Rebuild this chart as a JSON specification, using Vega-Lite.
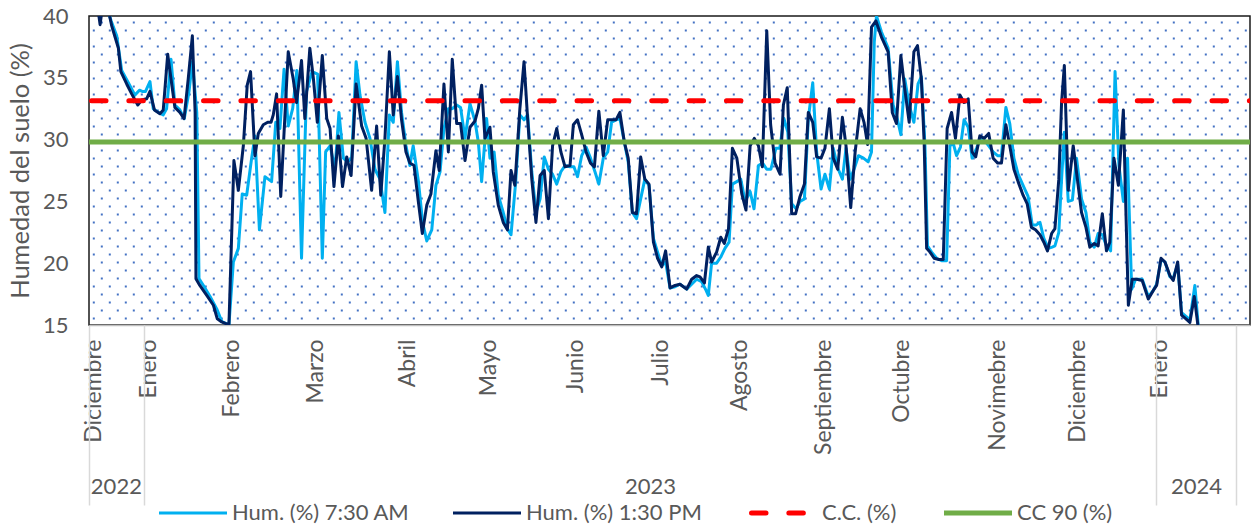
{
  "$schema": "https://vega.github.io/schema/vega-lite/v6.json",
  "width": 1161,
  "height": 309,
  "autosize": {"type": "none"},
  "padding": {"left": 89, "top": 16, "right": 2, "bottom": 200},
  "background": "white",
  "config": {
    "view": {"stroke": "#1a1a1a", "strokeWidth": 1.5},
    "font": "Lato"
  },
  "datasets": {
    "am": [
      {"d":6,"h":41},{"d":8,"h":39.6},{"d":10,"h":38.4},{"d":11.8,"h":35.6},{"d":14.2,"h":34.6},{"d":16.6,"h":33.6},{"d":18.2,"h":34},{"d":19.2,"h":33.9},{"d":20.4,"h":33.9},{"d":22,"h":34.7},{"d":23.2,"h":32.5},{"d":25,"h":32.2},{"d":26.8,"h":32},{"d":28,"h":32.5},{"d":29.6,"h":36.5},{"d":31,"h":32.8},{"d":32.8,"h":32.4},{"d":34.4,"h":31.7},{"d":36.1,"h":33.9},{"d":37.3,"h":36.3},{"d":38.9,"h":32.2},{"d":39.7,"h":18.75},{"d":41.3,"h":18.2},{"d":43.7,"h":17.3},{"d":46.1,"h":16.3},{"d":47.9,"h":15.3},{"d":50.5,"h":15},{"d":52.1,"h":20.1},{"d":53.9,"h":21.2},{"d":55.3,"h":25.6},{"d":56.9,"h":25.5},{"d":58.7,"h":28.5},{"d":59.9,"h":30.3},{"d":61.5,"h":22.7},{"d":63.5,"h":27},{"d":64.7,"h":26.8},{"d":65.9,"h":26.6},{"d":67.4,"h":31.4},{"d":68.9,"h":30.9},{"d":70.4,"h":35.7},{"d":71.9,"h":31.1},{"d":73.5,"h":32.5},{"d":75,"h":35.6},{"d":76.7,"h":20.4},{"d":78.5,"h":33.9},{"d":80.5,"h":35.5},{"d":82.5,"h":35.3},{"d":84.2,"h":20.4},{"d":85.4,"h":29},{"d":87,"h":29.5},{"d":88.8,"h":27.6},{"d":90.2,"h":32.2},{"d":91.8,"h":28.5},{"d":93.3,"h":28.2},{"d":94.8,"h":28.5},{"d":96.4,"h":36.3},{"d":97.8,"h":33.6},{"d":99.6,"h":31.4},{"d":101.4,"h":30.1},{"d":103.2,"h":27.6},{"d":105,"h":26.8},{"d":106.8,"h":24.1},{"d":108.4,"h":32},{"d":109.8,"h":31.4},{"d":111.3,"h":36.3},{"d":112.8,"h":32.2},{"d":114.4,"h":29.5},{"d":115.8,"h":27.9},{"d":117,"h":29.5},{"d":118.9,"h":26.6},{"d":120.4,"h":23.3},{"d":121.9,"h":21.8},{"d":123.7,"h":22.7},{"d":125.2,"h":26.3},{"d":126.7,"h":27.4},{"d":128.1,"h":30.9},{"d":129.7,"h":32.5},{"d":131.1,"h":32.5},{"d":132.7,"h":32.8},{"d":134.1,"h":32.6},{"d":135.7,"h":30.1},{"d":137.5,"h":32.9},{"d":139.3,"h":31.5},{"d":140.5,"h":29.8},{"d":141.7,"h":26.6},{"d":143.5,"h":31.7},{"d":144.7,"h":28.5},{"d":146.2,"h":29},{"d":147.7,"h":25.5},{"d":149.5,"h":24.1},{"d":151,"h":22.8},{"d":152.3,"h":22.3},{"d":154,"h":26.6},{"d":155.5,"h":32},{"d":157,"h":31.6},{"d":158.3,"h":32},{"d":159.8,"h":27.4},{"d":161.3,"h":24.1},{"d":162.8,"h":25.2},{"d":164.3,"h":28.6},{"d":165.8,"h":27.6},{"d":167.3,"h":27.2},{"d":168.8,"h":26.4},{"d":170.3,"h":27.4},{"d":171.8,"h":27.9},{"d":173.6,"h":27.8},{"d":175,"h":27.8},{"d":176.3,"h":27},{"d":177.8,"h":28.7},{"d":179.4,"h":29.4},{"d":181,"h":28.5},{"d":182.6,"h":27.4},{"d":184,"h":26.4},{"d":185.6,"h":28.5},{"d":187.2,"h":29},{"d":188.6,"h":31.4},{"d":190.2,"h":31.6},{"d":191.6,"h":31.7},{"d":193.2,"h":29.8},{"d":194.6,"h":28.2},{"d":196.1,"h":24.1},{"d":197.6,"h":23.6},{"d":199.1,"h":25.2},{"d":200.6,"h":26.8},{"d":202.1,"h":26.3},{"d":203.7,"h":22},{"d":205.2,"h":20.9},{"d":206.7,"h":19.8},{"d":208.1,"h":20.1},{"d":209.7,"h":18},{"d":211.5,"h":18.1},{"d":213.3,"h":18.3},{"d":215.7,"h":17.9},{"d":217.5,"h":18.3},{"d":219.3,"h":18.7},{"d":221.1,"h":18.5},{"d":222.7,"h":17.8},{"d":223.5,"h":17.4},{"d":224.7,"h":20},{"d":226.5,"h":20},{"d":228,"h":20.5},{"d":229.5,"h":21.2},{"d":231,"h":21.7},{"d":232.2,"h":26.4},{"d":233.8,"h":26.6},{"d":235.2,"h":26.8},{"d":236.8,"h":25},{"d":238.6,"h":25.8},{"d":240,"h":24.4},{"d":241.6,"h":27.9},{"d":243.1,"h":28.1},{"d":244.6,"h":27.6},{"d":246.1,"h":27.6},{"d":247.9,"h":29.3},{"d":249.3,"h":29.3},{"d":250.8,"h":31.7},{"d":252.2,"h":30.6},{"d":253.6,"h":24.8},{"d":255.2,"h":24.4},{"d":256.6,"h":25},{"d":258.2,"h":25.2},{"d":259.6,"h":31.7},{"d":261.2,"h":34.6},{"d":262.6,"h":29},{"d":264.2,"h":26},{"d":265.6,"h":27.2},{"d":267.2,"h":26},{"d":268.6,"h":29.3},{"d":270.4,"h":27.6},{"d":271.9,"h":26.8},{"d":273.2,"h":29.3},{"d":274.7,"h":26.8},{"d":276.1,"h":27.6},{"d":277.7,"h":28.7},{"d":279.5,"h":28.5},{"d":281.2,"h":28.2},{"d":282.4,"h":29},{"d":283.4,"h":37.9},{"d":284.2,"h":40},{"d":286,"h":38.7},{"d":288.4,"h":37.4},{"d":290.2,"h":32.8},{"d":291.4,"h":32},{"d":293,"h":30.4},{"d":294.4,"h":34.9},{"d":296,"h":32.8},{"d":297.7,"h":31.4},{"d":299.2,"h":34.5},{"d":300.4,"h":35.1},{"d":301.7,"h":29.5},{"d":302.6,"h":21.4},{"d":304.1,"h":20.9},{"d":305.9,"h":20.4},{"d":307.7,"h":20.2},{"d":309.5,"h":20.2},{"d":310.7,"h":29.5},{"d":311.9,"h":29.7},{"d":313.1,"h":28.7},{"d":314.5,"h":29.4},{"d":315.8,"h":31.6},{"d":317.3,"h":31},{"d":318.7,"h":28.5},{"d":320.3,"h":29.3},{"d":321.9,"h":30.2},{"d":323.3,"h":29.9},{"d":324.7,"h":29.5},{"d":326.3,"h":29},{"d":327.9,"h":28.7},{"d":329.3,"h":28.7},{"d":330.9,"h":32.6},{"d":332.3,"h":31.3},{"d":333.8,"h":28.5},{"d":335.3,"h":27.2},{"d":337.1,"h":26.3},{"d":338.9,"h":25.4},{"d":340.4,"h":23.1},{"d":341.9,"h":23.1},{"d":343.2,"h":23.3},{"d":344.6,"h":22},{"d":346.2,"h":21.2},{"d":347.6,"h":21.3},{"d":348.6,"h":21.4},{"d":350,"h":22.5},{"d":351,"h":26.8},{"d":352,"h":30.6},{"d":353.4,"h":25},{"d":354.9,"h":25.1},{"d":356.4,"h":28.5},{"d":358.2,"h":25.2},{"d":359.8,"h":24.1},{"d":361.2,"h":21.7},{"d":362.8,"h":21.3},{"d":364.2,"h":22.4},{"d":365.7,"h":22.3},{"d":367.2,"h":21.4},{"d":368.7,"h":21},{"d":370.3,"h":35.5},{"d":371.7,"h":27.9},{"d":373.3,"h":25},{"d":374.8,"h":28.5},{"d":376.3,"h":17.9},{"d":377.7,"h":18.7},{"d":380.1,"h":18.7},{"d":382.3,"h":17.3},{"d":384.1,"h":17.8},{"d":385.3,"h":18.3},{"d":386.9,"h":20.3},{"d":388.3,"h":20.1},{"d":390.1,"h":18.9},{"d":391.3,"h":18.8},{"d":392.9,"h":19.9},{"d":394.3,"h":16},{"d":395.9,"h":15.7},{"d":397.3,"h":15.4},{"d":399.1,"h":18.2},{"d":400.3,"h":15}
    ],
    "pm": [
      {"d":3.4,"h":40.3},{"d":4,"h":39.3},{"d":4.6,"h":40.3},{"d":6,"h":41.5},{"d":8.2,"h":39.2},{"d":9.4,"h":38.3},{"d":10.6,"h":37.4},{"d":11.5,"h":35.5},{"d":13.6,"h":34.5},{"d":15.4,"h":33.7},{"d":17.6,"h":32.8},{"d":19,"h":33.2},{"d":20.8,"h":33.3},{"d":22,"h":33.9},{"d":23.6,"h":32.4},{"d":25.6,"h":32.1},{"d":26.8,"h":32.4},{"d":28.4,"h":36.9},{"d":29.6,"h":34.9},{"d":31,"h":32.6},{"d":32.8,"h":32.2},{"d":34.3,"h":31.7},{"d":35.8,"h":34.9},{"d":37.3,"h":38.4},{"d":38.3,"h":32.2},{"d":38.6,"h":18.75},{"d":40,"h":18.2},{"d":42.5,"h":17.4},{"d":44.9,"h":16.6},{"d":46.3,"h":15.5},{"d":47.9,"h":15.25},{"d":50.5,"h":15},{"d":52.3,"h":28.3},{"d":53.9,"h":25.9},{"d":55.7,"h":29.5},{"d":57.1,"h":34.4},{"d":58.3,"h":35.5},{"d":59.9,"h":28.7},{"d":61.1,"h":30.5},{"d":62.9,"h":31.2},{"d":64.5,"h":31.4},{"d":65.7,"h":31.4},{"d":66.5,"h":32},{"d":67.7,"h":33.7},{"d":69.2,"h":25.4},{"d":71.9,"h":37.1},{"d":73.7,"h":34.9},{"d":74.9,"h":33},{"d":76.7,"h":36.4},{"d":77.9,"h":31.7},{"d":79.7,"h":37.4},{"d":81,"h":34.9},{"d":82.4,"h":31.4},{"d":84.2,"h":36.8},{"d":85.8,"h":31.7},{"d":87,"h":30.9},{"d":88.4,"h":26.2},{"d":90,"h":30.3},{"d":91.5,"h":26.2},{"d":93,"h":28.6},{"d":94.6,"h":27.1},{"d":96.4,"h":34.5},{"d":98.4,"h":31.1},{"d":100,"h":30.1},{"d":102,"h":25.9},{"d":103.8,"h":31.1},{"d":105.3,"h":25.5},{"d":106.8,"h":30.1},{"d":108.4,"h":37.1},{"d":109.8,"h":32},{"d":111.3,"h":35.1},{"d":112.8,"h":31.6},{"d":114.4,"h":29},{"d":115.8,"h":28.1},{"d":117.3,"h":27.9},{"d":118.9,"h":24.9},{"d":120.3,"h":22.4},{"d":121.9,"h":24.7},{"d":123.4,"h":25.6},{"d":125.2,"h":29.1},{"d":126.4,"h":27.5},{"d":128.1,"h":34.5},{"d":129.7,"h":29},{"d":131.1,"h":36.5},{"d":132.7,"h":31.3},{"d":134.1,"h":31.3},{"d":135.7,"h":28.3},{"d":137.5,"h":31},{"d":139.3,"h":31.5},{"d":140.5,"h":32.5},{"d":141.7,"h":34.4},{"d":142.9,"h":30.1},{"d":144.7,"h":31},{"d":145.9,"h":27.4},{"d":147.7,"h":24.7},{"d":149.5,"h":23.3},{"d":151,"h":22.7},{"d":152.3,"h":27.5},{"d":153.7,"h":26.3},{"d":155.5,"h":32.5},{"d":157,"h":36.3},{"d":158.3,"h":31.7},{"d":159.8,"h":26.8},{"d":161.3,"h":23.3},{"d":162.8,"h":27.1},{"d":164.3,"h":27.5},{"d":165.8,"h":23.6},{"d":167.3,"h":29.5},{"d":168.8,"h":30.9},{"d":170.3,"h":29},{"d":171.8,"h":27.8},{"d":173.6,"h":27.9},{"d":174.8,"h":31.2},{"d":176.3,"h":31.6},{"d":177.8,"h":30.4},{"d":179.4,"h":29},{"d":181,"h":28.1},{"d":182.4,"h":27.8},{"d":184,"h":32.3},{"d":185.6,"h":28.7},{"d":187.2,"h":31.6},{"d":188.6,"h":31.6},{"d":190.2,"h":31.6},{"d":191.6,"h":32.2},{"d":193.2,"h":29.8},{"d":194.6,"h":28.5},{"d":196.1,"h":24.1},{"d":197.6,"h":24},{"d":199.1,"h":28.6},{"d":200.6,"h":26.8},{"d":202.1,"h":26.4},{"d":203.7,"h":21.7},{"d":205.2,"h":20.4},{"d":206.7,"h":19.7},{"d":208.1,"h":21},{"d":209.7,"h":18},{"d":211.5,"h":18.2},{"d":213.3,"h":18.3},{"d":215.7,"h":17.9},{"d":217.5,"h":18.7},{"d":219.3,"h":19},{"d":220.5,"h":18.9},{"d":222.1,"h":18.4},{"d":223.5,"h":21.3},{"d":224.7,"h":20.1},{"d":226.5,"h":20.9},{"d":228,"h":22.1},{"d":229.3,"h":21.6},{"d":230.8,"h":22.8},{"d":232.2,"h":29.3},{"d":233.8,"h":28.5},{"d":235.6,"h":25.6},{"d":237.1,"h":24.3},{"d":238.6,"h":29.5},{"d":240.1,"h":30.1},{"d":241.6,"h":29.5},{"d":243,"h":27.8},{"d":244.6,"h":38.8},{"d":246,"h":31.2},{"d":247.6,"h":28.1},{"d":249.4,"h":27.2},{"d":250.6,"h":32.8},{"d":252,"h":34.2},{"d":253.6,"h":24},{"d":255,"h":24},{"d":256.6,"h":25.4},{"d":258.2,"h":26.4},{"d":259.6,"h":32.2},{"d":261.2,"h":31.4},{"d":262.6,"h":28.6},{"d":264.2,"h":28.5},{"d":265.6,"h":29.3},{"d":267.2,"h":32.5},{"d":268.6,"h":28.5},{"d":270.2,"h":27.6},{"d":271.9,"h":31.8},{"d":273.2,"h":29.5},{"d":274.9,"h":24.5},{"d":276.5,"h":29},{"d":278.3,"h":32.5},{"d":279.7,"h":31.4},{"d":281,"h":29.6},{"d":282.4,"h":39.1},{"d":284,"h":39.6},{"d":286,"h":38.3},{"d":288.4,"h":37.1},{"d":289.9,"h":32.2},{"d":291.4,"h":31.3},{"d":293,"h":36.8},{"d":294.4,"h":34.1},{"d":296,"h":31.4},{"d":297.7,"h":37.1},{"d":299,"h":37.6},{"d":300.4,"h":34.9},{"d":301.4,"h":29.8},{"d":302.3,"h":21.2},{"d":303.5,"h":20.9},{"d":305,"h":20.4},{"d":306.7,"h":20.3},{"d":308.3,"h":20.3},{"d":309.7,"h":30.9},{"d":311.3,"h":32.2},{"d":312.7,"h":30.1},{"d":314.3,"h":33.6},{"d":315.8,"h":33},{"d":317.3,"h":33.3},{"d":318.7,"h":29},{"d":320,"h":28.6},{"d":321.5,"h":30.3},{"d":323.1,"h":30.1},{"d":324.7,"h":30.5},{"d":326.3,"h":28.5},{"d":327.9,"h":28.1},{"d":329.3,"h":28.1},{"d":330.9,"h":31.2},{"d":332.3,"h":29.5},{"d":333.8,"h":27.6},{"d":335.3,"h":26.6},{"d":337.1,"h":25.5},{"d":338.6,"h":24.8},{"d":340.1,"h":22.9},{"d":341.6,"h":22.7},{"d":343.2,"h":22.3},{"d":344.6,"h":21.7},{"d":345.9,"h":21},{"d":347.4,"h":22.4},{"d":348.6,"h":22.8},{"d":350,"h":26.8},{"d":351,"h":33},{"d":352,"h":36},{"d":353.4,"h":25.9},{"d":355.2,"h":29.5},{"d":356.7,"h":26.8},{"d":358.2,"h":24.1},{"d":359.8,"h":22.9},{"d":361.2,"h":21.3},{"d":362.8,"h":21.6},{"d":364.2,"h":21.4},{"d":365.7,"h":24},{"d":367.2,"h":21},{"d":368.4,"h":21.7},{"d":369.9,"h":28.5},{"d":371.5,"h":26.3},{"d":373.3,"h":32.4},{"d":374.1,"h":25.2},{"d":375.1,"h":16.6},{"d":376.5,"h":18.7},{"d":378.1,"h":18.7},{"d":380.1,"h":18.6},{"d":382.3,"h":17.1},{"d":384.1,"h":17.8},{"d":385.3,"h":18.2},{"d":386.9,"h":20.4},{"d":388.3,"h":20.1},{"d":390.1,"h":19},{"d":391.3,"h":18.6},{"d":392.9,"h":20.1},{"d":394.3,"h":15.8},{"d":395.9,"h":15.5},{"d":397.3,"h":15.2},{"d":398.9,"h":17.3},{"d":400.3,"h":14.8}
    ]
  },
  "layer": [
    {
      "data": {"name": "am"},
      "mark": {"type": "line", "strokeWidth": 3, "clip": true, "strokeJoin": "round"},
      "encoding": {
        "x": {
          "field": "d", "type": "quantitative",
          "scale": {"domain": [0, 419], "nice": false, "zero": false},
          "axis": {
            "orient": "bottom", "title": null, "grid": false, "ticks": false,
            "domain": true, "domainColor": "#BFBFBF", "domainWidth": 1.5,
            "values": [1.5, 21.3, 51.6, 81.6, 115.1, 144, 175.7, 206.1, 234.9, 264.9, 293.4, 328, 356.9, 386.5],
            "labelExpr": "['Diciembre','Enero','Febrero','Marzo','Abril','Mayo','Junio','Julio','Agosto','Septiembre','Octubre','Novimebre','Diciembre','Enero'][indexof([1.5, 21.3, 51.6, 81.6, 115.1, 144, 175.7, 206.1, 234.9, 264.9, 293.4, 328, 356.9, 386.5], datum.value)]",
            "labelAngle": 270, "labelAlign": "right", "labelBaseline": "middle",
            "labelPadding": 14, "labelFont": "Lato", "labelFontSize": 23, "labelColor": "#595959",
            "labelOverlap": false, "labelFlush": false, "labelBound": false
          }
        },
        "y": {
          "field": "h", "type": "quantitative",
          "scale": {"domain": [15, 40], "nice": false, "zero": false},
          "axis": {
            "orient": "left", "values": [15, 20, 25, 30, 35, 40], "grid": false, "ticks": false, "domain": false,
            "labelFont": "Lato", "labelFontSize": 22, "labelColor": "#595959", "labelPadding": 21,
            "title": "Humedad del suelo (%)", "titleFont": "Lato", "titleFontSize": 25.5, "titleFontWeight": "normal",
            "titleColor": "#595959", "titlePadding": 9
          }
        },
        "color": {
          "datum": "Hum. (%) 7:30 AM", "type": "nominal",
          "scale": {
            "domain": ["Hum. (%) 7:30 AM", "Hum. (%) 1:30 PM", "C.C. (%)", "CC 90 (%)"],
            "range": ["#00B0F0", "#002060", "#FF0000", "#70AD47"]
          },
          "legend": {
            "orient": "none", "legendX": 93, "legendY": 486, "direction": "horizontal",
            "title": null, "symbolType": "stroke", "symbolSize": 4624, "symbolStrokeWidth": 3,
            "labelFont": "Lato", "labelFontSize": 22, "labelColor": "#595959", "labelOffset": 28,
            "labelLimit": 400, "columnPadding": 37,
            "encode": {
              "symbols": {
                "update": {
                  "strokeDash": {"signal": "datum.value == 'C.C. (%)' ? [14.5, 22.85] : null"},
                  "strokeDashOffset": {"value": -2.5},
                  "strokeWidth": {"signal": "datum.value == 'C.C. (%)' || datum.value == 'CC 90 (%)' ? 5 : 3"},
                  "strokeCap": {"signal": "datum.value == 'C.C. (%)' ? 'round' : 'butt'"}
                }
              }
            }
          }
        }
      }
    },
    {
      "data": {"name": "pm"},
      "mark": {"type": "line", "strokeWidth": 3, "clip": true, "strokeJoin": "round"},
      "encoding": {
        "x": {"field": "d", "type": "quantitative", "axis": null},
        "y": {"field": "h", "type": "quantitative", "axis": null},
        "color": {"datum": "Hum. (%) 1:30 PM", "type": "nominal"}
      }
    },
    {
      "data": {"values": [{"v": 33.15}]},
      "mark": {"type": "rule", "strokeWidth": 5, "strokeDash": [14.5, 22.85], "strokeDashOffset": -2.5, "strokeCap": "round", "clip": true},
      "encoding": {
        "x": {
          "datum": 0, "type": "quantitative",
          "axis": {
            "orient": "bottom", "title": null, "grid": false, "domain": false,
            "values": [0, 9.7, 19.8, 202.5, 385.1, 399.5, 413.9],
            "labelExpr": "datum.value == 9.7 ? '2022' : datum.value == 202.5 ? '2023' : datum.value == 399.5 ? '2024' : ''",
            "ticks": true, "tickSize": 180, "tickWidth": 1.5,
            "tickColor": {"condition": {"test": "datum.value == 9.7 || datum.value == 202.5 || datum.value == 399.5", "value": "transparent"}, "value": "#D9D9D9"},
            "labelBaseline": "alphabetic", "labelPadding": -12, "labelAngle": 0, "labelAlign": "center",
            "labelFont": "Lato", "labelFontSize": 22, "labelColor": "#595959",
            "labelOverlap": false, "labelFlush": false, "labelBound": false
          }
        },
        "x2": {"datum": 419},
        "y": {
          "field": "v", "type": "quantitative",
          "axis": {
            "orient": "left", "title": null, "labels": false, "ticks": false, "domain": false, "grid": true,
            "values": [39.515, 38.867, 38.22, 37.573, 36.926, 36.278, 35.631, 34.984, 34.337, 33.689, 33.042, 32.395, 31.748, 31.1, 30.453, 29.806, 29.159, 28.511, 27.864, 27.217, 26.57, 25.922, 25.275, 24.628, 23.981, 23.333, 22.686, 22.039, 21.392, 20.744, 20.097, 19.45, 18.803, 18.155, 17.508, 16.861, 16.214, 15.566],
            "gridColor": "#4472C4", "gridWidth": 2, "gridDash": [2, 14],
            "gridDashOffset": {"condition": {"test": "round((39.515 - datum.value) / 0.6472) % 2 == 1", "value": 12.7}, "value": 4.7}
          }
        },
        "color": {"datum": "C.C. (%)", "type": "nominal"}
      }
    },
    {
      "data": {"values": [{"v": 29.8}]},
      "mark": {"type": "rule", "strokeWidth": 5, "clip": true},
      "encoding": {
        "x": {"datum": 0, "type": "quantitative", "axis": null},
        "x2": {"datum": 419},
        "y": {"field": "v", "type": "quantitative", "axis": null},
        "color": {"datum": "CC 90 (%)", "type": "nominal"}
      }
    }
  ],
  "resolve": {"axis": {"x": "independent", "y": "independent"}}
}
